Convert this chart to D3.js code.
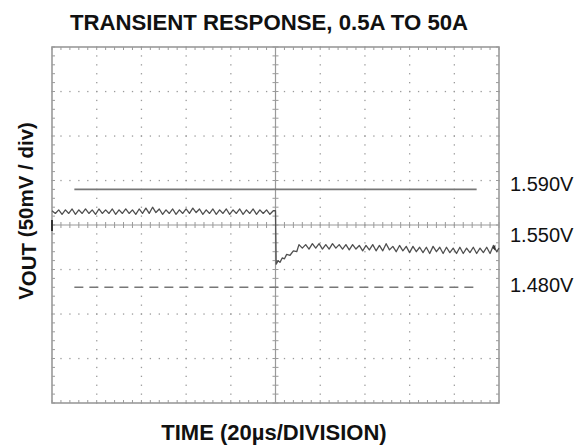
<!DOCTYPE html>
<html><head><meta charset="utf-8">
<script src="https://cdn.jsdelivr.net/npm/d3@7"></script>
<style>body{margin:0;background:#fff}svg{display:block}text{font-family:"Liberation Sans",Arial,Helvetica,sans-serif}</style>
</head><body><div id="chart"></div>
<script>
// ---- data ----
const title = "TRANSIENT RESPONSE, 0.5A TO 50A";
const xTitle = "TIME (20\u00b5s/DIVISION)";
const centerVolt = 1.55, voltPerDiv = 0.05, usPerDiv = 20;
const xDivisions = [0,20,40,60,80,100,120,140,160,180,200];
const yDivisions = [1.35,1.40,1.45,1.50,1.55,1.60,1.65,1.70,1.75];
const refLevels = [1.590, 1.480];
const refStyles = ["solid", "dashed"];
const levelLabels = ["1.590V", "1.550V", "1.480V"];
const levelValues = [1.590, 1.550, 1.480];
const timeUs = [0,1.5,3,4.5,6,7.5,9,10.5,12,13.5,15,16.5,18,19.5,21,22.5,24,25.5,27,28.5,30,31.5,33,34.5,36,37.5,39,40.5,42,43.5,45,46.5,48,49.5,51,52.5,54,55.5,57,58.5,60,61.5,63,64.5,66,67.5,69,70.5,72,73.5,75,76.5,78,79.5,81,82.5,84,85.5,87,88.5,90,91.5,93,94.5,96,97.5,99,
100,100.3,101.2,102,103,104,105,106.5,108,109.5,110.5,112,
113.5,115,116.5,118,119.5,121,122.5,124,125.5,127,128.5,130,131.5,133,134.5,136,137.5,139,140.5,142,143.5,145,146.5,148,149.5,151,152.5,154,155.5,157,158.5,160,161.5,163,164.5,166,167.5,169,170.5,172,173.5,175,176.5,178,179.5,181,182.5,184,185.5,187,188.5,190,191.5,193,194.5,196,197.5,199,200];
const voutV = [1.566,1.563,1.567,1.562,1.567,1.563,1.568,1.562,1.567,1.563,
1.568,1.563,1.567,1.562,1.568,1.563,1.567,1.563,1.568,1.562,
1.567,1.563,1.568,1.563,1.567,1.562,1.568,1.563,1.569,1.563,
1.570,1.564,1.568,1.562,1.567,1.563,1.568,1.562,1.567,1.563,
1.568,1.563,1.569,1.564,1.568,1.562,1.567,1.563,1.568,1.562,
1.567,1.563,1.568,1.562,1.567,1.563,1.568,1.562,1.567,1.563,
1.568,1.562,1.567,1.563,1.567,1.562,1.566,
1.566,1.506,1.510,1.508,1.513,1.512,1.517,1.516,1.521,1.520,1.528,1.524,
1.528,1.523,1.529,1.524,1.529,1.523,1.528,1.523,1.529,1.524,
1.528,1.523,1.528,1.522,1.528,1.523,1.527,1.521,1.527,1.522,
1.528,1.521,1.527,1.521,1.529,1.522,1.526,1.520,1.527,1.521,
1.526,1.519,1.526,1.520,1.525,1.519,1.525,1.518,1.526,1.520,
1.525,1.518,1.525,1.519,1.524,1.518,1.525,1.518,1.524,1.519,
1.525,1.518,1.524,1.519,1.525,1.518,1.527,1.520,1.524];

// ---- layout ----
const W = 586, H = 445;
const box = {left:52, right:499, top:47, bottom:403};
const svg = d3.select("#chart").append("svg").attr("width",W).attr("height",H);
const x = d3.scaleLinear().domain([0, 10*usPerDiv]).range([box.left, box.right]);
const y = d3.scaleLinear().domain([centerVolt-4*voltPerDiv, centerVolt+4*voltPerDiv]).range([box.bottom, box.top]);
const gridCol = "#9a9a9a";
const g = svg.append("g");

const xMinor = d3.range(0, 200.001, 4);
const yMinor = d3.range(0, 41).map(i => 1.35 + i*0.01);

// dotted grid
xDivisions.slice(1,-1).filter(v=>v!==100).forEach(v=>{
  g.selectAll(null).data(yMinor).enter().append("rect")
    .attr("x", x(v)-0.6).attr("y", d=>y(d)-0.6).attr("width",1.3).attr("height",1.3).attr("fill",gridCol);
});
yDivisions.slice(1,-1).filter(v=>Math.abs(v-1.55)>1e-6).forEach(v=>{
  g.selectAll(null).data(xMinor).enter().append("rect")
    .attr("x", d=>x(d)-0.6).attr("y", y(v)-0.6).attr("width",1.3).attr("height",1.3).attr("fill",gridCol);
});

// center axes with ticks
g.append("line").attr("x1",x(0)).attr("x2",x(200)).attr("y1",y(1.55)).attr("y2",y(1.55)).attr("stroke",gridCol).attr("stroke-width",1.2);
g.append("line").attr("x1",x(100)).attr("x2",x(100)).attr("y1",y(1.35)).attr("y2",y(1.75)).attr("stroke",gridCol).attr("stroke-width",1.2);
g.selectAll(null).data(xMinor).enter().append("line")
  .attr("x1",d=>x(d)).attr("x2",d=>x(d)).attr("y1",y(1.55)-3).attr("y2",y(1.55)+3).attr("stroke",gridCol).attr("stroke-width",1);
g.selectAll(null).data(yMinor).enter().append("line")
  .attr("y1",d=>y(d)).attr("y2",d=>y(d)).attr("x1",x(100)-3).attr("x2",x(100)+3).attr("stroke",gridCol).attr("stroke-width",1);

// border ticks
g.selectAll(null).data(xMinor).enter().append("line")
  .attr("x1",d=>x(d)).attr("x2",d=>x(d)).attr("y1",box.top).attr("y2",box.top+3).attr("stroke",gridCol);
g.selectAll(null).data(xMinor).enter().append("line")
  .attr("x1",d=>x(d)).attr("x2",d=>x(d)).attr("y1",box.bottom).attr("y2",box.bottom-3).attr("stroke",gridCol);
g.selectAll(null).data(yMinor).enter().append("line")
  .attr("y1",d=>y(d)).attr("y2",d=>y(d)).attr("x1",box.left).attr("x2",box.left+3).attr("stroke",gridCol);
g.selectAll(null).data(yMinor).enter().append("line")
  .attr("y1",d=>y(d)).attr("y2",d=>y(d)).attr("x1",box.right).attr("x2",box.right-3).attr("stroke",gridCol);
g.append("rect").attr("x",box.left).attr("y",box.top).attr("width",box.right-box.left).attr("height",box.bottom-box.top)
  .attr("fill","none").attr("stroke",gridCol).attr("stroke-width",1.6);

// reference lines
refLevels.forEach((v,i)=>{
  g.append("line").attr("x1",x(10)).attr("x2",x(190)).attr("y1",y(v)).attr("y2",y(v))
    .attr("stroke","#777").attr("stroke-width",1.6)
    .attr("stroke-dasharray", refStyles[i]==="dashed" ? "9,6" : null);
});

// waveform
const pts = timeUs.map((t,i)=>[t, voutV[i]]);
g.append("path").datum(pts)
  .attr("d", d3.line().x(d=>x(d[0])).y(d=>y(d[1])))
  .attr("fill","none").attr("stroke","#505050").attr("stroke-width",1.3).attr("stroke-linejoin","round");
g.append("path").attr("d", `M${x(197)},${y(1.5245)} l3,-3 l0,6 z`).attr("fill","#333");
g.append("line").attr("x1",box.left).attr("x2",box.left).attr("y1",y(1.55)-5).attr("y2",y(1.55)+6).attr("stroke","#333").attr("stroke-width",2);

// level labels
const labelDy = [2, 16.5, 4.5];
svg.selectAll(".lvl").data(levelLabels).enter().append("text").attr("class","lvl")
  .attr("x", box.right+11).attr("y",(d,i)=>y(levelValues[i])+labelDy[i])
  .attr("font-size",20).attr("fill","#111").text(d=>d);

// titles
svg.append("text").attr("x",269).attr("y",30).attr("text-anchor","middle")
  .attr("font-size",22.2).attr("font-weight","bold").attr("fill","#111").text(title);
svg.append("text").attr("x",274).attr("y",440).attr("text-anchor","middle")
  .attr("font-size",22).attr("font-weight","bold").attr("fill","#111").text(xTitle);
const yt = svg.append("text").attr("transform","translate(33,211) rotate(-90)").attr("text-anchor","middle")
  .attr("font-size",20.5).attr("font-weight","bold").attr("fill","#111");
yt.append("tspan").text("V");
yt.append("tspan").attr("dy",3).text("OUT");
yt.append("tspan").attr("dy",-3).text(" (50mV / div)");
</script></body></html>
